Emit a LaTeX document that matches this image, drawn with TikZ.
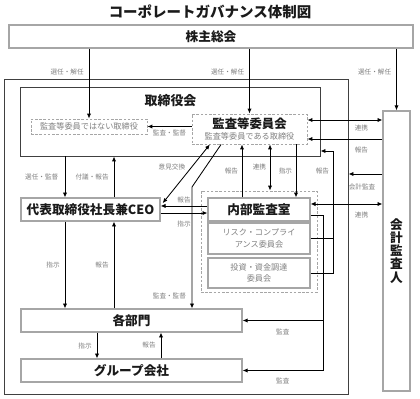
\documentclass[tikz,border=0pt]{standalone}
\usepackage{fontspec}
\setmainfont{Noto Sans CJK JP}
\usepackage{xcolor}
\usepackage{tikz}
\usetikzlibrary{positioning, arrows.meta}
\definecolor{gov-line}{HTML}{A6A6A6}
\definecolor{gov-dark}{HTML}{404040}
\definecolor{gov-gray}{HTML}{7F7F7F}
\definecolor{gov-text}{HTML}{1A1A1A}

\begin{document}
\begin{tikzpicture}[
    x=0.025cm, y=-0.025cm,
    box/.style={draw=gov-line, line width=0.8pt, inner sep=0pt, text=gov-text,
                font=\bfseries\fontsize{9}{10}\selectfont},
    sub/.style={draw=gov-line, line width=0.8pt, inner sep=0pt, align=center,
                text=gov-gray, font=\fontsize{5.8}{8.2}\selectfont},
    dbox/.style={draw=gov-line, dash pattern=on 1.8pt off 1.2pt, line width=0.6pt, inner sep=0pt},
    frame/.style={draw=gov-dark, line width=0.7pt},
    arr/.style={-{Latex[length=3.5pt, width=3pt]}, line width=0.6pt},
    both/.style={{Latex[length=3.5pt, width=3pt]}-{Latex[length=3.5pt, width=3pt]}, line width=0.6pt},
    lbl/.style={font=\fontsize{4.7}{5.6}\selectfont, text=gov-gray, inner sep=0.5pt},
]
    \useasboundingbox (0,0) rectangle (420,399);

    % Title
    \node[font=\bfseries\fontsize{10.3}{12}\selectfont, text=gov-text] (title) at (210,12) {コーポレートガバナンス体制図};

    % Frames
    \node[box, minimum width=10.1cm, minimum height=0.575cm] (shareholders) at (211,36.5) {株主総会};
    \node[frame, minimum width=8.575cm, minimum height=7.85cm] (company) at (176.5,237) {};
    \node[frame, minimum width=7.475cm, minimum height=1.7cm]  (board)   at (170.5,122) {};
    \node[text=gov-text, font=\bfseries\fontsize{9.2}{10}\selectfont] (boardname) at (170.5,101) {取締役会};

    % Board members
    \node[dbox, minimum width=2.9cm, minimum height=0.375cm, text=gov-gray, font=\fontsize{5.8}{7}\selectfont]
        (nonaudit) at (89,126.5) {監査等委員ではない取締役};
    \node[dbox, minimum width=2.875cm, minimum height=0.75cm, align=center, font=\fontsize{5.8}{7.8}\selectfont]
        (auditcom) at (249.5,129) {{\bfseries\fontsize{8.8}{10}\selectfont\color{gov-text}監査等委員会}\\[-0.5pt]{\color{gov-gray}監査等委員である取締役}};

    % Executive side
    \node[box, minimum width=3.475cm, minimum height=0.575cm] (ceo)      at (90.5,209.5) {代表取締役社長兼CEO};
    \node[dbox, minimum width=2.9cm, minimum height=2.525cm]  (intgroup) at (259,241.5) {};
    \node[box, minimum width=2.55cm, minimum height=0.575cm]  (internal) at (259,209.5) {内部監査室};
    \node[sub, minimum width=2.55cm, minimum height=0.775cm]  (risk)     at (259,238.5) {リスク・コンプライ\\アンス委員会};
    \node[sub, minimum width=2.55cm, minimum height=0.75cm]   (invest)   at (259,273) {投資・資金調達\\委員会};
    \node[box, minimum width=5.525cm, minimum height=0.575cm] (depts)    at (131.5,320.5) {各部門};
    \node[box, minimum width=5.525cm, minimum height=0.575cm] (group)    at (131.5,370.5) {グループ会社};

    % Auditor
    \node[box, minimum width=0.675cm, minimum height=7cm, align=center, font=\bfseries\fontsize{9}{9.3}\selectfont]
        (accountant) at (396.5,251) {会\\計\\監\\査\\人};

    % Columns and rows
    \coordinate (xsel)    at (65,0);
    \coordinate (xrep)    at (114,0);
    \coordinate (xgsel)   at (97,0);
    \coordinate (xgrep)   at (161,0);
    \coordinate (xiarep)  at (242,0);
    \coordinate (xialink) at (270,0);
    \coordinate (xiacmd)  at (296,0);
    \coordinate (ylink)   at (0,120);
    \coordinate (yrep)    at (0,139);
    \coordinate (yacc)    at (0,174);
    \coordinate (ylink2)  at (0,204);
    \coordinate (auditbend) at (192,187);
    \coordinate (rptup)   at (333,151);
    \coordinate (audbus)  at (323,215);

    % Shareholders
    \draw[arr] (shareholders.south -| nonaudit.north) -- (nonaudit.north) node[pos=.34, left=3pt, lbl] {選任・解任};
    \draw[arr] (shareholders.south -| auditcom.north) -- (auditcom.north) node[pos=.36, left=3pt, lbl] {選任・解任};
    \draw[arr] (shareholders.south -| accountant.north) -- (accountant.north) node[pos=.38, left=3pt, lbl] {選任・解任};

    % Board
    \draw[arr] (auditcom.west |- nonaudit.east) -- (nonaudit.east) node[midway, below=2pt, lbl] {監査・監督};
    \draw[arr] (board.south -| xsel) -- (ceo.north -| xsel) node[midway, left=4pt, lbl] {選任・監督};
    \draw[arr] (ceo.north -| xrep) -- (board.south -| xrep) node[midway, left=3pt, lbl] {付議・報告};
    \draw[both] ([xshift=1.5pt, yshift=4.5pt]ceo.east) -- ([xshift=13pt]auditcom.south west)
        node[pos=.62, left=4pt, lbl] {意見交換};
    \draw[arr] ([xshift=21pt]auditcom.south west) -- (auditbend) -- (auditbend |- depts.north)
        node[pos=.9, left=3.5pt, lbl] {監査・監督};

    % Audit committee and internal audit
    \draw[arr] (internal.north -| xiarep) -- (auditcom.south -| xiarep) node[midway, left=2pt, lbl] {報告};
    \draw[both] (auditcom.south -| xialink) -- (intgroup.north -| xialink) node[midway, left=2pt, lbl] {連携};
    \draw[arr] (auditcom.south -| xiacmd) -- (internal.north -| xiacmd) node[midway, left=2pt, lbl] {指示};
    \draw[arr] ([yshift=2.5pt]internal.west) -- ([yshift=2.5pt]ceo.east) node[midway, above=1pt, lbl] {報告};
    \draw[arr] ([yshift=-2.5pt]ceo.east) -- ([yshift=-2.5pt]internal.west) node[midway, below=4.5pt, lbl] {指示};

    % Accounting auditor
    \draw[both] (auditcom.east |- ylink) -- (accountant.west |- ylink) node[pos=.72, below=3pt, lbl] {連携};
    \draw[arr] (accountant.west |- yrep) -- (auditcom.east |- yrep) node[pos=.28, below=4.5pt, lbl] {報告};
    \draw[arr] (accountant.west |- yacc) -- (company.east |- yacc) node[pos=.6, below=6.5pt, lbl] {会計監査};
    \draw[both] (internal.east |- ylink2) -- (accountant.west |- ylink2) node[pos=.71, below=5pt, lbl] {連携};

    % Committees report to board
    \draw (risk.east) -- (risk.east -| rptup);
    \draw[arr] (invest.east) -| node[pos=.92, left=2pt, lbl] {報告} (rptup) -- (board.east |- rptup);

    % Internal audit of departments
    \draw[line width=0.6pt] (internal.east |- audbus) -- (audbus) -- (audbus |- group.east);
    \draw[arr] (audbus |- depts.east) -- (depts.east) node[midway, below=5pt, lbl] {監査};
    \draw[arr] (audbus |- group.east) -- (group.east) node[midway, below=4.5pt, lbl] {監査};

    % Line of command
    \draw[arr] (ceo.south -| xsel) -- (depts.north -| xsel) node[midway, left=3pt, lbl] {指示};
    \draw[arr] (depts.north -| xrep) -- (ceo.south -| xrep) node[midway, left=3pt, lbl] {報告};
    \draw[arr] (depts.south -| xgsel) -- (group.north -| xgsel) node[midway, left=3pt, lbl] {指示};
    \draw[arr] (group.north -| xgrep) -- (depts.south -| xgrep) node[midway, left=3pt, lbl] {報告};
\end{tikzpicture}
\end{document}
